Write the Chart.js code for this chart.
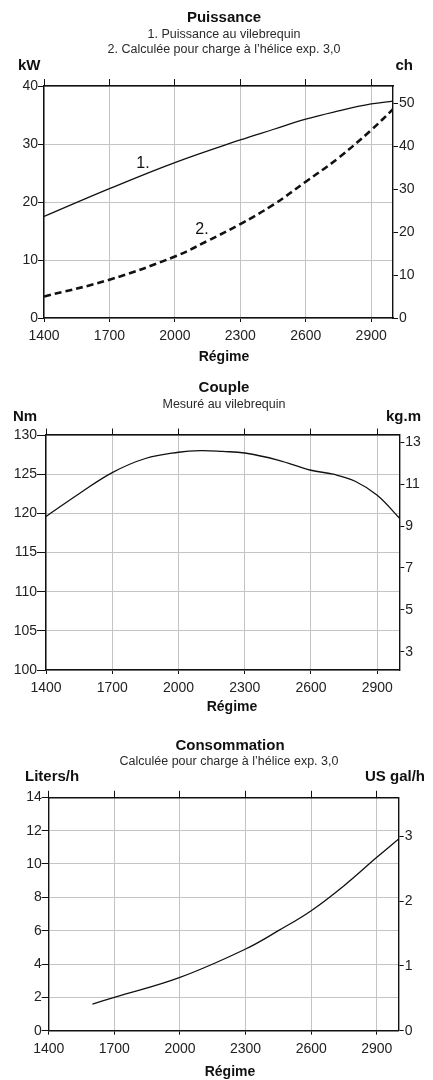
<!DOCTYPE html>
<html>
<head>
<meta charset="utf-8">
<script src="https://cdn.jsdelivr.net/npm/chart.js@4/dist/chart.umd.min.js"></script>
<style>
  body { margin: 0; background: #fff; }
  .panel { position: absolute; left: 0; width: 433px; }
</style>
</head>
<body>
<div class="panel" style="top:0;height:370px"><canvas id="powerChart"></canvas></div>
<div class="panel" style="top:375px;height:345px"><canvas id="torqueChart"></canvas></div>
<div class="panel" style="top:735px;height:345px"><canvas id="fuelChart"></canvas></div>
<script>
const rpmTicks = [1400, 1700, 2000, 2300, 2600, 2900];

// Puissance
const crankRpm = [1400, 1700, 2000, 2300, 2450, 2600, 2750, 2900, 3000];
const crankKw = [17.5, 22.3, 26.8, 30.7, 32.5, 34.3, 35.7, 36.9, 37.4];
const propRpm = [1400, 1700, 2000, 2150, 2300, 2450, 2600, 2750, 2900, 3000];
const propKw = [3.7, 6.6, 10.6, 13.3, 16.2, 19.5, 23.5, 27.6, 32.4, 36.0];
const kwTicks = [0, 10, 20, 30, 40];
const chTicks = [0, 10, 20, 30, 40, 50];

// Couple
const torqueRpm = [1400, 1550, 1700, 1850, 2000, 2100, 2200, 2300, 2450, 2600, 2700, 2800, 2900, 3000];
const torqueNm = [119.6, 122.5, 125.2, 127.0, 127.8, 128.0, 127.9, 127.7, 126.8, 125.5, 125.0, 124.1, 122.3, 119.4];
const nmTicks = [100, 105, 110, 115, 120, 125, 130];
const kgmTicks = [3, 5, 7, 9, 11, 13];

// Consommation
const fuelRpm = [1600, 1700, 2000, 2300, 2450, 2600, 2750, 2900, 3000];
const fuelLh = [1.6, 2.0, 3.2, 4.9, 6.0, 7.2, 8.7, 10.4, 11.5];
const lhTicks = [0, 2, 4, 6, 8, 10, 12, 14];
const galTicks = [0, 1, 2, 3];

const family = '"Liberation Sans", Arial, sans-serif';
const tickFont = { family, size: 14 };
const ink = '#111';
const gridGrey = '#c4c4c4';

const points = (xs, ys) => xs.map((x, i) => ({ x, y: ys[i] }));
const useTicks = (values) => (scale) => { scale.ticks = values.map((v) => ({ value: v })); };
const fixSize = (size) => (scale) => {
  if (scale.isHorizontal()) scale.height = size;
  else scale.width = size;
};
const plain = (v) => String(v);

// text drawn on top: titles, units, curve numbers
function panelText(items) {
  return {
    id: 'panelText',
    afterDraw(chart) {
      const ctx = chart.ctx;
      ctx.save();
      ctx.textBaseline = 'middle';
      for (const t of items) {
        ctx.font = (t.bold ? 'bold ' : '') + t.size + 'px ' + family;
        ctx.fillStyle = t.color || ink;
        ctx.textAlign = t.align || 'center';
        let px = t.px;
        let py = t.py;
        if (t.at) {
          px = chart.scales.x.getPixelForValue(t.at[0]);
          py = chart.scales.y.getPixelForValue(t.at[1]);
        }
        ctx.fillText(t.text, px, py);
      }
      ctx.restore();
    },
  };
}

function buildScales(o) {
  const border = { color: ink, width: 1.4 };
  return {
    x: {
      type: 'linear', position: 'bottom', min: 1400, max: 3000,
      afterBuildTicks: useTicks(rpmTicks), afterFit: fixSize(o.bottom),
      grid: { color: gridGrey, tickColor: ink, tickLength: 4 },
      border,
      ticks: { font: tickFont, color: '#222', padding: 6, maxRotation: 0, autoSkip: false, callback: plain },
    },
    xTop: {
      type: 'linear', position: 'top', min: 1400, max: 3000,
      afterBuildTicks: useTicks(rpmTicks), afterFit: fixSize(o.top),
      grid: { drawOnChartArea: false, tickColor: ink, tickLength: o.topTick },
      border,
      ticks: { display: false },
    },
    y: {
      type: 'linear', position: 'left', min: o.yMin, max: o.yMax,
      afterBuildTicks: useTicks(o.yTicks), afterFit: fixSize(o.left),
      grid: { color: gridGrey, tickColor: ink, tickLength: o.leftTick },
      border,
      ticks: { font: tickFont, color: '#222', padding: 0, callback: plain },
    },
    y2: {
      type: 'linear', position: 'right', min: o.y2Min, max: o.y2Max,
      afterBuildTicks: useTicks(o.y2Ticks), afterFit: fixSize(o.right),
      grid: { drawOnChartArea: false, tickColor: ink, tickLength: 5 },
      border,
      ticks: { font: tickFont, color: '#222', padding: 1, callback: plain },
    },
  };
}

const common = {
  responsive: true,
  maintainAspectRatio: false,
  animation: false,
  layout: { padding: 0 },
};
const noLegend = { legend: { display: false }, tooltip: { enabled: false } };
const subGrey = '#2a2a2a';

new Chart(document.getElementById('powerChart'), {
  type: 'line',
  data: {
    datasets: [
      {
        label: '1. Puissance au vilebrequin',
        data: points(crankRpm, crankKw),
        borderColor: ink,
        borderWidth: 1.3,
        pointRadius: 0,
        tension: 0.4,
      },
      {
        label: '2. Calculée pour charge à l’hélice exp. 3,0',
        data: points(propRpm, propKw),
        borderColor: ink,
        borderWidth: 2.6,
        borderDash: [7, 4],
        pointRadius: 0,
        tension: 0.4,
      },
    ],
  },
  options: {
    ...common,
    scales: buildScales({
      top: 86, bottom: 52, left: 44, right: 40, topTick: 7, leftTick: 6,
      yMin: 0, yMax: 40, yTicks: kwTicks, y2Min: 0, y2Max: 54, y2Ticks: chTicks,
    }),
    plugins: noLegend,
  },
  plugins: [panelText([
    { text: 'Puissance', px: 224, py: 18, size: 15, bold: true },
    { text: '1. Puissance au vilebrequin', px: 224, py: 35, size: 12.5, color: subGrey },
    { text: '2. Calculée pour charge à l’hélice exp. 3,0', px: 224, py: 50, size: 12.5, color: subGrey },
    { text: 'kW', px: 18, py: 66, size: 15, bold: true, align: 'left' },
    { text: 'ch', px: 413, py: 66, size: 15, bold: true, align: 'right' },
    { text: 'Régime', px: 224, py: 357, size: 14, bold: true },
    { text: '1.', at: [1854, 26.7], size: 16 },
    { text: '2.', at: [2124, 15.2], size: 16 },
  ])],
});

new Chart(document.getElementById('torqueChart'), {
  type: 'line',
  data: {
    datasets: [
      {
        label: 'Couple',
        data: points(torqueRpm, torqueNm),
        borderColor: ink,
        borderWidth: 1.3,
        pointRadius: 0,
        tension: 0.4,
      },
    ],
  },
  options: {
    ...common,
    scales: buildScales({
      top: 60, bottom: 50, left: 46, right: 33.7, topTick: 6.5, leftTick: 9,
      yMin: 100, yMax: 130, yTicks: nmTicks, y2Min: 2.13, y2Max: 13.35, y2Ticks: kgmTicks,
    }),
    plugins: noLegend,
  },
  plugins: [panelText([
    { text: 'Couple', px: 224, py: 13, size: 15, bold: true },
    { text: 'Mesuré au vilebrequin', px: 224, py: 30, size: 12.5, color: subGrey },
    { text: 'Nm', px: 13, py: 42, size: 15, bold: true, align: 'left' },
    { text: 'kg.m', px: 421, py: 42, size: 15, bold: true, align: 'right' },
    { text: 'Régime', px: 232, py: 332, size: 14, bold: true },
  ])],
});

new Chart(document.getElementById('fuelChart'), {
  type: 'line',
  data: {
    datasets: [
      {
        label: 'Consommation',
        data: points(fuelRpm, fuelLh),
        borderColor: ink,
        borderWidth: 1.3,
        pointRadius: 0,
        tension: 0.4,
      },
    ],
  },
  options: {
    ...common,
    scales: buildScales({
      top: 62.3, bottom: 49.3, left: 48.7, right: 34.3, topTick: 6.5, leftTick: 7,
      yMin: 0, yMax: 14, yTicks: lhTicks, y2Min: 0, y2Max: 3.607, y2Ticks: galTicks,
    }),
    plugins: noLegend,
  },
  plugins: [panelText([
    { text: 'Consommation', px: 230, py: 11, size: 15, bold: true },
    { text: 'Calculée pour charge à l’hélice exp. 3,0', px: 229, py: 27, size: 12.5, color: subGrey },
    { text: 'Liters/h', px: 25, py: 42, size: 15, bold: true, align: 'left' },
    { text: 'US gal/h', px: 425, py: 42, size: 15, bold: true, align: 'right' },
    { text: 'Régime', px: 230, py: 337, size: 14, bold: true },
  ])],
});
</script>
</body>
</html>
